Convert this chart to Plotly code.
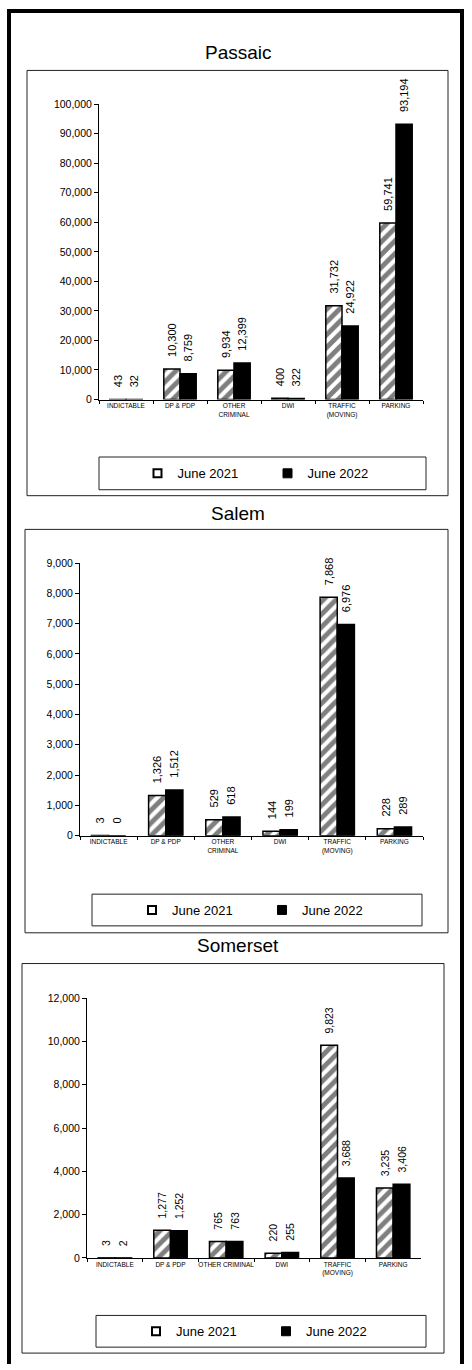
import plotly.graph_objects as go

W, H = 472, 1370
FONT = "Liberation Sans, Arial, sans-serif"

series_names = ["June 2021", "June 2022"]
titles = ["Passaic", "Salem", "Somerset"]

cats_passaic = ["INDICTABLE", "DP & PDP", "OTHER<br>CRIMINAL", "DWI", "TRAFFIC<br>(MOVING)", "PARKING"]
cats_salem = ["INDICTABLE", "DP & PDP", "OTHER<br>CRIMINAL", "DWI", "TRAFFIC<br>(MOVING)", "PARKING"]
cats_somerset = ["INDICTABLE", "DP & PDP", "OTHER CRIMINAL", "DWI", "TRAFFIC<br>(MOVING)", "PARKING"]

passaic_2021 = [43, 10300, 9934, 400, 31732, 59741]
passaic_2022 = [32, 8759, 12399, 322, 24922, 93194]
salem_2021 = [3, 1326, 529, 144, 7868, 228]
salem_2022 = [0, 1512, 618, 199, 6976, 289]
somerset_2021 = [3, 1277, 765, 220, 9823, 3235]
somerset_2022 = [2, 1252, 763, 255, 3688, 3406]

y_max = [100000, 9000, 12000]
y_step = [10000, 1000, 2000]


def px(x):
    return x / W


def py(y):
    return 1 - y / H


# layout geometry (pixels)
plot_x = [(99, 423), (80, 423), (87, 421)]
plot_y = [(99, 397), (562, 837), (1001, 1263)]
title_y = [47, 512, 948]
chart_box = [(27, 65, 448, 494), (25, 528, 448, 935), (22, 966, 444, 1359)]
legend_box = [(99, 455, 426, 488), (92, 896, 422, 928), (96, 1321, 426, 1353)]
label_size = [11, 11, 10.5]

data = [
    (cats_passaic, passaic_2021, passaic_2022),
    (cats_salem, salem_2021, salem_2022),
    (cats_somerset, somerset_2021, somerset_2022),
]

fig = go.Figure()
legend_ids = ["legend", "legend2", "legend3"]
PAD = "\u00a0\u00a0\u00a0"

for i, (cats, v21, v22) in enumerate(data):
    sfx = "" if i == 0 else str(i + 1)
    common = dict(
        x=cats,
        xaxis="x" + sfx,
        yaxis="y" + sfx,
        texttemplate=PAD + "%{y:,}",
        textposition="outside",
        textangle=-90,
        textfont=dict(size=label_size[i], color="black", family=FONT),
        cliponaxis=False,
        constraintext="none",
        showlegend=False,
        hoverinfo="skip",
    )
    fig.add_trace(go.Bar(
        y=v21, name=series_names[0],
        marker=dict(color="white",
                    line=dict(color="black", width=1.5),
                    pattern=dict(shape="/", fgcolor="black", bgcolor="white",
                                 size=9, solidity=0.55)),
        **common))
    fig.add_trace(go.Bar(
        y=v22, name=series_names[1],
        marker=dict(color="black", line=dict(color="black", width=1.5)),
        **common))
    # legend entries
    fig.add_trace(go.Scatter(
        x=[None], y=[None], mode="markers", name=series_names[0],
        xaxis="x" + sfx, yaxis="y" + sfx, legend=legend_ids[i],
        marker=dict(symbol="square", size=8, color="white",
                    line=dict(color="black", width=2))))
    fig.add_trace(go.Scatter(
        x=[None], y=[None], mode="markers", name=series_names[1],
        xaxis="x" + sfx, yaxis="y" + sfx, legend=legend_ids[i],
        marker=dict(symbol="square", size=9, color="black",
                    line=dict(color="black", width=1))))

layout = dict(
    width=W, height=H, autosize=False,
    margin=dict(l=0, r=0, t=0, b=0),
    paper_bgcolor="white", plot_bgcolor="white",
    barmode="group", bargap=0.4, bargroupgap=0,
    font=dict(family=FONT, color="black"),
    showlegend=True,
)

shapes = []
annotations = []
for i in range(3):
    sfx = "" if i == 0 else str(i + 1)
    x0, x1 = plot_x[i]
    y0, y1 = plot_y[i]
    layout["xaxis" + sfx] = dict(
        domain=[px(x0), px(x1)], anchor="y" + sfx,
        showline=True, linecolor="black", linewidth=1,
        ticks="outside", tickson="boundaries", ticklen=3, tickcolor="black",
        tickangle=0,
        tickfont=dict(size=6.5, family=FONT, color="black"),
        showgrid=False, zeroline=False, fixedrange=True,
    )
    layout["yaxis" + sfx] = dict(
        domain=[py(y1), py(y0)], anchor="x" + sfx,
        range=[0, y_max[i]], dtick=y_step[i], tick0=0,
        tickformat=",", showline=True, linecolor="black", linewidth=1,
        ticks="outside", ticklen=4, tickcolor="black",
        tickfont=dict(size=10.5, family=FONT, color="black"),
        showgrid=False, zeroline=False, fixedrange=True,
    )
    bx0, by0, bx1, by1 = chart_box[i]
    shapes.append(dict(type="rect", xref="paper", yref="paper",
                       x0=px(bx0), x1=px(bx1), y0=py(by1), y1=py(by0),
                       line=dict(color="#222", width=1), layer="below"))
    lx0, ly0, lx1, ly1 = legend_box[i]
    shapes.append(dict(type="rect", xref="paper", yref="paper",
                       x0=px(lx0), x1=px(lx1), y0=py(ly1), y1=py(ly0),
                       line=dict(color="#222", width=1), layer="below"))
    layout[legend_ids[i]] = dict(
        orientation="h", x=px((lx0 + lx1) / 2 + 5), y=py((ly0 + ly1) / 2),
        xanchor="center", yanchor="middle",
        bgcolor="rgba(0,0,0,0)", borderwidth=0,
        font=dict(size=13, family=FONT, color="black"),
        entrywidth=85, entrywidthmode="pixels",
        itemclick=False, itemdoubleclick=False,
    )
    annotations.append(dict(text=titles[i], xref="paper", yref="paper",
                            x=px(238), y=py(title_y[i]),
                            xanchor="center", yanchor="middle", showarrow=False,
                            font=dict(size=19, family=FONT, color="black")))

# outer black frame
shapes += [
    dict(type="rect", xref="paper", yref="paper", x0=px(7), x1=px(11), y0=0, y1=py(3),
         fillcolor="black", line=dict(width=0)),
    dict(type="rect", xref="paper", yref="paper", x0=px(460), x1=px(464), y0=0, y1=py(3),
         fillcolor="black", line=dict(width=0)),
    dict(type="rect", xref="paper", yref="paper", x0=px(7), x1=px(464), y0=py(7), y1=py(3),
         fillcolor="black", line=dict(width=0)),
]

layout["shapes"] = shapes
layout["annotations"] = annotations
fig.update_layout(**layout)

fig.write_html("out.html", config={"displayModeBar": False, "staticPlot": True},
               post_script="document.body.style.margin='0px';document.body.style.overflow='hidden';")
